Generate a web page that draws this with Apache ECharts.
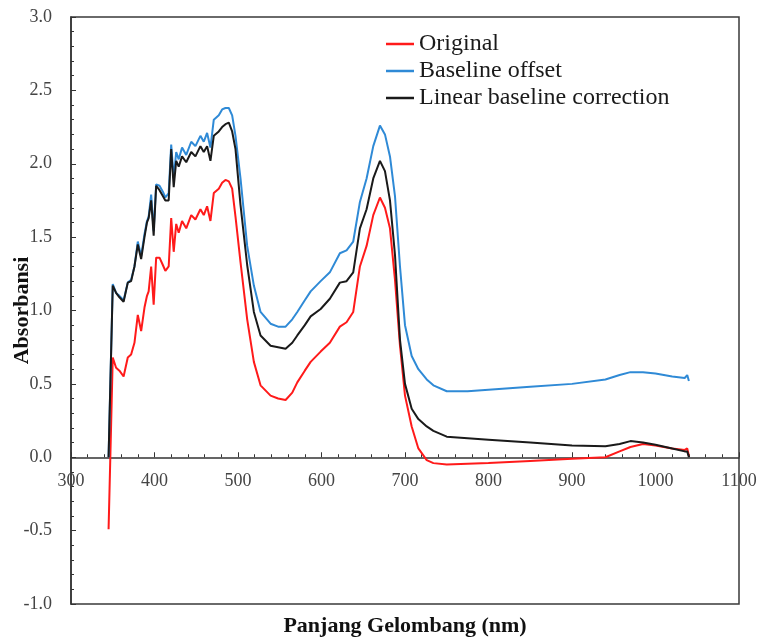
<!DOCTYPE html>
<html>
<head>
<meta charset="utf-8">
<script src="https://cdn.jsdelivr.net/npm/echarts@6/dist/echarts.min.js"></script>
<style>
  html, body { margin: 0; padding: 0; background: #fff; }
  #chart { width: 762px; height: 640px; }
</style>
</head>
<body>
<div id="chart"></div>
<script>
// Wavelength grid (nm) shared by the three spectra
const wavelength = [
  345, 350, 354, 358, 363, 368, 372, 376, 380, 384, 388, 391, 393, 396, 399,
  402, 406, 410, 413, 417, 420, 423, 426, 429, 433, 438, 444, 449, 455, 459,
  463, 467, 471, 477, 481, 485, 489, 493, 497, 503, 511, 519, 527, 539, 548,
  557, 565, 571, 580, 587, 599, 610, 622, 630, 638, 646, 654, 662, 670, 676,
  682, 688, 694, 700, 708, 716, 726, 734, 750, 775, 800, 850, 900, 940, 957,
  970, 985, 1000, 1020, 1035, 1038, 1040
];

// Original spectrum
const absOriginal = [
  -0.49, 0.68, 0.61, 0.59, 0.55, 0.68, 0.70, 0.78, 0.97, 0.86, 1.02, 1.10, 1.13, 1.30, 1.04,
  1.36, 1.36, 1.31, 1.27, 1.30, 1.63, 1.40, 1.59, 1.53, 1.61, 1.56, 1.65, 1.62, 1.69, 1.65,
  1.71, 1.61, 1.80, 1.83, 1.87, 1.89, 1.88, 1.83, 1.64, 1.33, 0.94, 0.65, 0.49, 0.42, 0.40,
  0.39, 0.44, 0.51, 0.59, 0.65, 0.72, 0.78, 0.89, 0.92, 0.99, 1.30, 1.44, 1.65, 1.77, 1.70,
  1.56, 1.21, 0.76, 0.42, 0.21, 0.06, -0.02, -0.04, -0.05, -0.045, -0.04, -0.025, -0.01, 0.00, 0.04,
  0.07, 0.09, 0.08, 0.06, 0.05, 0.06, 0.01
];

// Baseline offset spectrum
const absBaselineOffset = [
  0.00, 1.18, 1.12, 1.10, 1.07, 1.19, 1.21, 1.30, 1.47, 1.37, 1.52, 1.61, 1.64, 1.79, 1.54,
  1.86, 1.85, 1.81, 1.77, 1.80, 2.13, 1.90, 2.08, 2.03, 2.11, 2.06, 2.15, 2.12, 2.19, 2.15,
  2.21, 2.11, 2.30, 2.33, 2.37, 2.38, 2.38, 2.33, 2.19, 1.90, 1.44, 1.17, 0.99, 0.91, 0.89,
  0.89, 0.94, 0.99, 1.07, 1.13, 1.20, 1.26, 1.39, 1.41, 1.47, 1.74, 1.90, 2.12, 2.26, 2.20,
  2.05, 1.78, 1.30, 0.90, 0.69, 0.60, 0.53, 0.49, 0.45, 0.45, 0.46, 0.48, 0.50, 0.53, 0.56,
  0.58, 0.58, 0.57, 0.55, 0.54, 0.56, 0.52
];

// Linear baseline correction spectrum
const absLinearCorrection = [
  0.00, 1.17, 1.12, 1.09, 1.06, 1.19, 1.20, 1.30, 1.45, 1.35, 1.50, 1.60, 1.63, 1.75, 1.51,
  1.85, 1.82, 1.78, 1.75, 1.75, 2.10, 1.84, 2.02, 1.98, 2.05, 2.01, 2.08, 2.05, 2.12, 2.08,
  2.12, 2.02, 2.19, 2.22, 2.25, 2.27, 2.28, 2.22, 2.10, 1.72, 1.31, 0.99, 0.83, 0.76, 0.75,
  0.74, 0.78, 0.83, 0.90, 0.96, 1.01, 1.08, 1.19, 1.20, 1.26, 1.56, 1.69, 1.90, 2.02, 1.95,
  1.75, 1.38, 0.80, 0.50, 0.33, 0.26, 0.21, 0.18, 0.14, 0.13, 0.12, 0.10, 0.08, 0.075, 0.09,
  0.11, 0.10, 0.085, 0.06, 0.04, 0.04, 0.00
];

const seriesNames = ['Original', 'Baseline offset', 'Linear baseline correction'];
const seriesColors = ['#ff1a1a', '#2f8ad6', '#1a1a1a'];
const seriesValues = [absOriginal, absBaselineOffset, absLinearCorrection];

const serif = 'Liberation Serif';
const Y_MIN = -1, Y_MAX = 3;
const GRID_TOP = 17, GRID_BOTTOM = 36, CHART_H = 640;
// distance from the bottom of the plot box up to the y = 0 line
const plotH = CHART_H - GRID_TOP - GRID_BOTTOM;
const zeroLift = plotH * (0 - Y_MIN) / (Y_MAX - Y_MIN);

const chart = echarts.init(document.getElementById('chart'));

chart.setOption({
  animation: false,
  backgroundColor: '#ffffff',
  grid: {
    left: 71, right: 23, top: GRID_TOP, bottom: GRID_BOTTOM,
    containLabel: false,
    outerBoundsMode: 'none',
    show: true,
    borderColor: '#3a3a3a',
    borderWidth: 1.5
  },
  legend: {
    orient: 'vertical',
    left: 381,
    top: 27,
    itemGap: 3,
    itemWidth: 28,
    itemHeight: 14,
    icon: 'path://M0,6 L28,6 L28,8.5 L0,8.5 Z',
    textStyle: { fontFamily: serif, fontSize: 24, color: '#1a1a1a' },
    data: seriesNames
  },
  xAxis: {
    type: 'value',
    position: 'bottom',
    offset: -zeroLift,
    min: 300, max: 1100, interval: 100,
    name: 'Panjang Gelombang (nm)',
    nameLocation: 'middle',
    nameMoveOverlap: false,
    nameGap: 158,
    nameTextStyle: { fontFamily: serif, fontSize: 22, fontWeight: 'bold', color: '#111' },
    axisLine: { onZero: false, lineStyle: { color: '#333', width: 1.5 } },
    axisTick: { inside: true, length: 5, lineStyle: { color: '#333' } },
    minorTick: { show: true, splitNumber: 5, length: 3, lineStyle: { color: '#333' } },
    axisLabel: { fontFamily: serif, fontSize: 18, color: '#444', margin: 15,
      showMinLabel: true, showMaxLabel: true, formatter: v => String(v) },
    splitLine: { show: false }
  },
  yAxis: {
    type: 'value',
    min: Y_MIN, max: Y_MAX, interval: 0.5,
    name: 'Absorbansi',
    nameLocation: 'middle',
    nameMoveOverlap: false,
    nameGap: 38,
    nameTextStyle: { fontFamily: serif, fontSize: 22, fontWeight: 'bold', color: '#111' },
    axisLine: { show: true, lineStyle: { color: '#333', width: 1.5 } },
    axisTick: { show: true, inside: true, length: 5, lineStyle: { color: '#333' } },
    minorTick: { show: true, splitNumber: 5, length: 3, lineStyle: { color: '#333' } },
    axisLabel: { fontFamily: serif, fontSize: 18, color: '#444', margin: 19,
      formatter: v => v.toFixed(1) },
    splitLine: { show: false }
  },
  series: seriesNames.map((name, i) => ({
    name: name,
    type: 'line',
    symbol: 'none',
    smooth: false,
    color: seriesColors[i],
    lineStyle: { width: 2, color: seriesColors[i] },
    data: wavelength.map((w, j) => [w, seriesValues[i][j]]),
    z: 2 + i
  }))
});
</script>
</body>
</html>
